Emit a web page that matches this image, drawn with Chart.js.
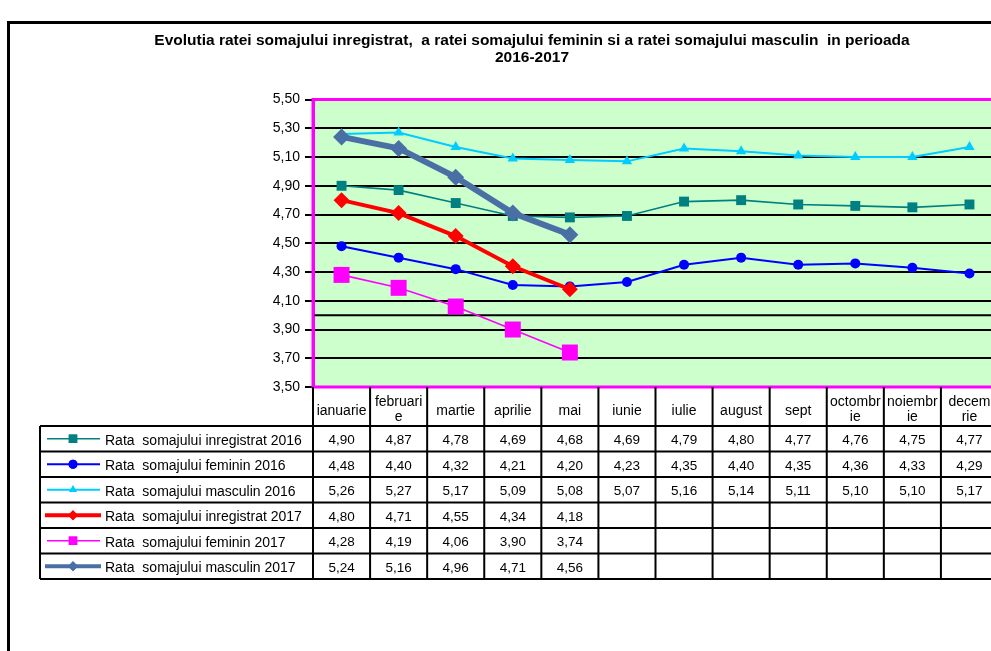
<!DOCTYPE html>
<html>
<head>
<meta charset="utf-8">
<script src="https://cdn.jsdelivr.net/npm/chart.js@4/dist/chart.umd.min.js"></script>
<style>
html,body{margin:0;padding:0;background:#fff;overflow:hidden;width:991px;height:651px;}
#c{position:absolute;left:0;top:0;}
</style>
</head>
<body>
<canvas id="c" width="1064" height="651" style="width:1064px;height:651px"></canvas>
<script>
// ---- data ----
const categories = ['ianuarie','februarie','martie','aprilie','mai','iunie','iulie','august','sept','octombrie','noiembrie','decembrie'];
const headerLabels = [['ianuarie'],['februari','e'],['martie'],['aprilie'],['mai'],['iunie'],['iulie'],['august'],['sept'],['octombr','ie'],['noiembr','ie'],['decem','rie']];
const inregistrat2016 = [4.90,4.87,4.78,4.69,4.68,4.69,4.79,4.80,4.77,4.76,4.75,4.77];
const feminin2016     = [4.48,4.40,4.32,4.21,4.20,4.23,4.35,4.40,4.35,4.36,4.33,4.29];
const masculin2016    = [5.26,5.27,5.17,5.09,5.08,5.07,5.16,5.14,5.11,5.10,5.10,5.17];
const inregistrat2017 = [4.80,4.71,4.55,4.34,4.18,null,null,null,null,null,null,null];
const feminin2017     = [4.28,4.19,4.06,3.90,3.74,null,null,null,null,null,null,null];
const masculin2017    = [5.24,5.16,4.96,4.71,4.56,null,null,null,null,null,null,null];
const seriesNames = ['Rata  somajului inregistrat 2016','Rata  somajului feminin 2016','Rata  somajului masculin 2016','Rata  somajului inregistrat 2017','Rata  somajului feminin 2017','Rata  somajului masculin 2017'];
const yMin = 3.5, yMax = 5.5, yStep = 0.2, extraGridValue = 4.0;
const titleLines = ['Evolutia ratei somajului inregistrat,  a ratei somajului feminin si a ratei somajului masculin  in perioada','2016-2017'];

const fmt = v => v == null ? '' : v.toFixed(2).replace('.', ',');

function ds(label, data, color, width, style, radius, order){
  return {label, data, borderColor: color, backgroundColor: color, borderWidth: width,
    pointStyle: style, pointRadius: radius, pointHoverRadius: radius, pointBorderWidth: 0,
    pointBackgroundColor: color, tension: 0, spanGaps: false, order, clip: false};
}
const datasets = [
  ds(seriesNames[0], inregistrat2016, '#008080', 1.6, 'rect', 7, 5),
  ds(seriesNames[1], feminin2016, '#0000FF', 2, 'circle', 5, 4),
  ds(seriesNames[2], masculin2016, '#00CCFF', 2, 'triangle', 6, 3),
  ds(seriesNames[3], inregistrat2017, '#FF0000', 4, 'rectRot', 8, 2),
  ds(seriesNames[4], feminin2017, '#FF00FF', 1.6, 'rect', 11.3, 1),
  ds(seriesNames[5], masculin2017, '#4A6FA5', 6, 'rectRot', 8.5, 0)
];

const FONT = '"Liberation Sans", Arial, sans-serif';

const decor = {
  id: 'decor',
  beforeDraw(chart){
    const {ctx, chartArea:a} = chart;
    ctx.save();
    ctx.fillStyle = '#CCFFCC';
    ctx.fillRect(a.left, a.top, a.right - a.left, a.bottom - a.top);
    ctx.restore();
  },
  beforeDatasetsDraw(chart){
    const {ctx, chartArea:a, scales} = chart;
    ctx.save();
    const y4 = scales.y.getPixelForValue(extraGridValue);
    ctx.strokeStyle = '#000'; ctx.lineWidth = 2;
    ctx.beginPath(); ctx.moveTo(a.left, y4); ctx.lineTo(a.right, y4); ctx.stroke();
    ctx.strokeStyle = '#FF00FF'; ctx.lineWidth = 3;
    ctx.beginPath();
    ctx.moveTo(a.right + 5, a.top); ctx.lineTo(a.left, a.top); ctx.lineTo(a.left, a.bottom); ctx.lineTo(a.right + 5, a.bottom);
    ctx.stroke();
    ctx.restore();
  },
  afterDraw(chart){
    const {ctx, chartArea:a, scales} = chart;
    const x = scales.x;
    const n = categories.length;
    const cw = (a.right - a.left) / n;
    const headTop = a.bottom, headBottom = 426, rowH = 25.5;
    const legLeft = 40;
    const rows = datasets.length;
    const tableBottom = headBottom + rows * rowH;
    ctx.save();
    // header labels
    ctx.fillStyle = '#000';
    ctx.textAlign = 'center'; ctx.textBaseline = 'middle';
    ctx.font = '14px ' + FONT;
    headerLabels.forEach((lines, i) => {
      const cx = x.getPixelForValue(i);
      if (lines.length === 1) ctx.fillText(lines[0], cx, 411);
      else { ctx.fillText(lines[0], cx, 402); ctx.fillText(lines[1], cx, 417); }
    });
    // values
    ctx.font = '13.5px ' + FONT;
    datasets.forEach((d, r) => {
      const cy = headBottom + r * rowH + rowH / 2 + 2;
      d.data.forEach((v, i) => {
        if (v == null) return;
        ctx.fillText(fmt(v), x.getPixelForValue(i), cy);
      });
    });
    // legend keys
    ctx.textAlign = 'left';
    ctx.font = '14px ' + FONT;
    datasets.forEach((d, r) => {
      const cy = headBottom + r * rowH + rowH / 2;
      ctx.strokeStyle = d.borderColor;
      ctx.lineWidth = Math.min(d.borderWidth, 4);
      const x0 = d.borderWidth >= 4 ? 45 : 47, x1 = d.borderWidth >= 4 ? 101 : 100;
      ctx.beginPath(); ctx.moveTo(x0, cy); ctx.lineTo(x1, cy); ctx.stroke();
      ctx.fillStyle = d.borderColor;
      const rad = d.pointStyle === 'rect' ? 6 : (d.pointStyle === 'rectRot' ? 5 : 4.5);
      Chart.helpers.drawPoint(ctx, {pointStyle: d.pointStyle, radius: rad, borderWidth: 0, rotation: 0}, 73, cy);
      ctx.fill();
      ctx.fillStyle = '#000';
      ctx.fillText(d.label, 105, cy + 2);
    });
    // grid lines of table
    ctx.strokeStyle = '#000'; ctx.lineWidth = 2;
    ctx.beginPath();
    for (let i = 0; i <= n; i++) {
      const vx = a.left + i * cw;
      ctx.moveTo(vx, headTop); ctx.lineTo(vx, tableBottom);
    }
    for (let r = 0; r <= rows; r++) {
      const hy = headBottom + r * rowH;
      ctx.moveTo(legLeft, hy); ctx.lineTo(a.right + 10, hy);
    }
    ctx.moveTo(legLeft, headBottom); ctx.lineTo(legLeft, tableBottom);
    ctx.stroke();
    // outer frame
    ctx.lineWidth = 3;
    ctx.strokeRect(8.5, 22.5, 1200, 800);
    ctx.restore();
  }
};

new Chart(document.getElementById('c'), {
  type: 'line',
  data: {labels: categories, datasets},
  options: {
    responsive: false,
    animation: false,
    devicePixelRatio: 1,
    layout: {padding: {left: 66, right: 66, top: 0, bottom: 264}},
    plugins: {
      legend: {display: false},
      tooltip: {enabled: false},
      title: {
        display: true, text: titleLines, color: '#000',
        font: {family: FONT, size: 15.5, weight: 'bold', lineHeight: 1.05},
        padding: {top: 33, bottom: 34}
      }
    },
    scales: {
      x: {display: false, offset: true},
      y: {
        min: yMin, max: yMax,
        afterFit(s){ s.width = 247; },
        afterBuildTicks(s){
          const t = [];
          for (let k = 0; k <= Math.round((yMax - yMin) / yStep); k++) t.push({value: +(yMin + k * yStep).toFixed(2)});
          s.ticks = t;
        },
        ticks: {
          color: '#000', padding: 5,
          font: {family: FONT, size: 14},
          callback: v => fmt(v)
        },
        grid: {color: '#000', lineWidth: 2, tickLength: 8, drawTicks: true},
        border: {color: '#FF00FF', width: 3}
      }
    }
  },
  plugins: [decor]
});
</script>
</body>
</html>
